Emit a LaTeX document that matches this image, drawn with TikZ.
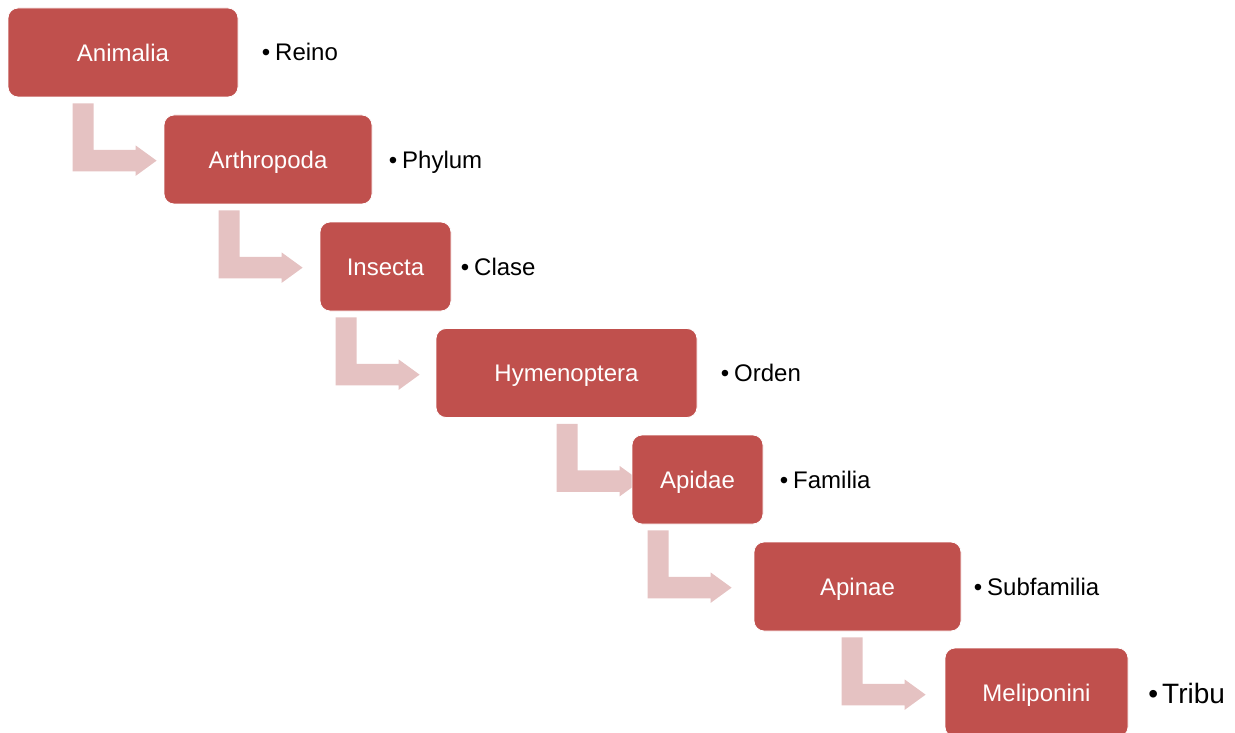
\documentclass[tikz,border=0pt]{standalone}
\usepackage{fontspec}
\setmainfont{Liberation Sans}
\usetikzlibrary{calc}
\definecolor{boxred}{HTML}{C0504D}
\definecolor{arrowpink}{HTML}{E5C2C2}
\pgfdeclarelayer{bg}
\pgfsetlayers{bg,main}
\tikzset{
  taxbox/.style={rectangle, rounded corners=10pt, fill=boxred, draw=white,
    line width=0.8pt, minimum height=89pt, text=white,
    font=\fontsize{24}{28}\selectfont, text height=17.2pt, text depth=0pt,
    inner sep=0pt},
  ranklabel/.style={anchor=base west, inner sep=0pt,
    font=\fontsize{24}{28}\selectfont},
  bentarrow/.pic={
    \fill[arrowpink] (0,0) -- (21,0) -- (21,46.5) -- (63,46.5) -- (63,42)
      -- (84,57.25) -- (63,72.5) -- (63,68) -- (0,68) -- cycle;
  }
}
\begin{document}
\begin{tikzpicture}[x=1pt,y=-1pt]
\useasboundingbox (0,0) rectangle (1235,733);
\begin{scope}
\clip (0,0) rectangle (1235,733);
% boxes
\node[taxbox, minimum width=230pt] (b1) at (123,52.5)   {Animalia};
\node[taxbox, minimum width=208pt] (b2) at (268,159.5)  {Arthropoda};
\node[taxbox, minimum width=131pt] (b3) at (385.5,266.5) {Insecta};
\node[taxbox, minimum width=261pt] (b4) at (566.5,373)  {Hymenoptera};
\node[taxbox, minimum width=131pt] (b5) at (697.5,479.5) {Apidae};
\node[taxbox, minimum width=207pt] (b6) at (857.5,586.5) {Apinae};
\node[taxbox, minimum width=183pt] (b7) at (1036.5,692.5) {Meliponini};
% rank labels
\node[ranklabel] (l1) at (275,60.5)  {\llap{•\hspace{5pt}}Reino};
\node[ranklabel] (l2) at (402,168)   {\llap{•\hspace{5pt}}Phylum};
\node[ranklabel] (l3) at (474,275)   {\llap{•\hspace{5pt}}Clase};
\node[ranklabel] (l4) at (734,381.6) {\llap{•\hspace{5pt}}Orden};
\node[ranklabel] (l5) at (793,488)   {\llap{•\hspace{5pt}}Familia};
\node[ranklabel] (l6) at (987,595)   {\llap{•\hspace{5pt}}Subfamilia};
\node[ranklabel, font=\fontsize{28}{32}\selectfont] (l7) at (1162,703) {\llap{•\hspace{4pt}}Tribu};
\end{scope}
% bent arrows (behind boxes)
\begin{pgfonlayer}{bg}
\pic at ($(b1.south west)+(65,6)$)  {bentarrow};
\pic at ($(b2.south west)+(55,6)$)  {bentarrow};
\pic at ($(b3.south west)+(16,6)$)  {bentarrow};
\pic at ($(b4.south west)+(121,6)$) {bentarrow};
\pic at ($(b5.south west)+(16,6)$)  {bentarrow};
\pic at ($(b6.south west)+(88,6)$)  {bentarrow};
\end{pgfonlayer}
\end{tikzpicture}
\end{document}
